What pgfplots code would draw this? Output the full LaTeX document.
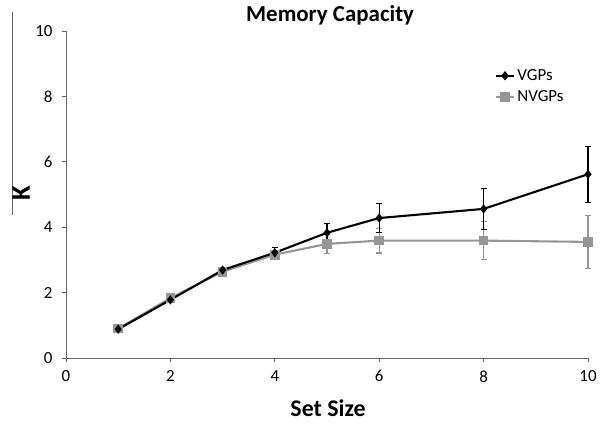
\documentclass[border=0pt]{standalone}
\usepackage{pgfplots}
\pgfplotsset{compat=1.18}
\usepackage{fontspec}
\setmainfont{Carlito}
\definecolor{ngray}{RGB}{150,150,150}
\definecolor{axgray}{RGB}{100,100,100}
\begin{document}
\begin{tikzpicture}[x=1bp,y=1bp]
\useasboundingbox (-66,-65) rectangle (534,358);
\begin{axis}[
  at={(0,0)}, anchor=south west,
  scale only axis, width=522bp, height=327bp,
  xmin=0, xmax=10, ymin=0, ymax=10,
  xtick={0,2,...,10}, ytick={0,2,...,10},
  axis lines*=left,
  axis line style={axgray, line width=1pt},
  tick style={axgray, line width=1pt},
  tick align=outside, major tick length=4bp,
  /pgf/number format/assume math mode=true,
  tick label style={font=\fontsize{17}{17}\selectfont},
  xticklabel style={yshift=-5bp},
  yticklabel style={xshift=-6bp},
  title={\textbf{Memory Capacity}},
  title style={font=\fontsize{23}{23}\selectfont, at={(axis description cs:0.506,1.03)}, anchor=center},
  xlabel={\textbf{Set Size}},
  xlabel style={font=\fontsize{24}{24}\selectfont, at={(axis description cs:0.502,-0.152)}, anchor=center},
  ylabel={\textbf{K}},
  ylabel style={font=\fontsize{27}{27}\selectfont, at={(axis description cs:-0.086,0.505)}, anchor=center, rotate=0},
  legend style={draw=none, fill=none, at={(axis description cs:0.815,0.895)}, anchor=north west, font=\fontsize{17}{17}\selectfont, row sep=5bp},
  legend cell align=left,
  legend image post style={xscale=1.1},
  reverse legend,
  clip=false,
]
\addplot[ngray, line width=2.1pt, mark=square*, mark size=3.8bp, mark options={fill=ngray, draw=ngray},
  error bars/.cd, y dir=both, y explicit, error mark options={rotate=90, mark size=3bp, line width=1.1pt, ngray}, error bar style={line width=1.1pt, ngray}]
  coordinates {
  (1,0.90) +- (0,0.03)
  (2,1.83) +- (0,0.05)
  (3,2.64) +- (0,0.07)
  (4,3.16) +- (0,0.12)
  (5,3.49) +- (0,0.30)
  (6,3.59) +- (0,0.38)
  (8,3.59) +- (0,0.59)
  (10,3.55) +- (0,0.81)
  };
\addplot[black, line width=2.1pt, mark=diamond*, mark size=3bp, mark options={fill=black},
  error bars/.cd, y dir=both, y explicit, error mark options={rotate=90, mark size=3bp, line width=1.2pt, black}, error bar style={line width=1.2pt, black}]
  coordinates {
  (1,0.88) +- (0,0.03)
  (2,1.78) +- (0,0.05)
  (3,2.69) +- (0,0.08)
  (4,3.22) +- (0,0.15)
  (5,3.83) +- (0,0.28)
  (6,4.28) +- (0,0.44)
  (8,4.56) +- (0,0.63)
  (10,5.62) +- (0,0.86)
  };
\legend{NVGPs,VGPs}
\draw[axgray, line width=1pt] (axis description cs:-0.1034,1.058) -- (axis description cs:-0.1034,0.437);
\end{axis}
\end{tikzpicture}
\end{document}
